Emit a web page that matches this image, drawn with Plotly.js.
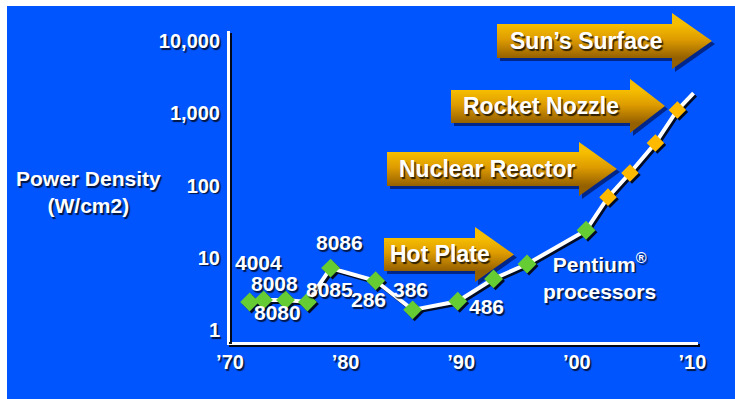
<!DOCTYPE html>
<html>
<head>
<meta charset="utf-8">
<script src="https://cdn.plot.ly/plotly-3.0.1.min.js"></script>
<style>
  html, body { margin: 0; padding: 0; background: #ffffff; width: 735px; height: 399px; overflow: hidden; }
  #chart { position: absolute; left: 7px; top: 6px; width: 728px; height: 393px; }
  #chart .scatterlayer { filter: drop-shadow(2px 2px 0px rgba(0,0,0,0.85)); }
  #chart path.xlines-above, #chart path.ylines-above { filter: drop-shadow(2px 2px 0px rgba(0,0,0,0.9)); }
</style>
</head>
<body>
<div id="chart"></div>
<script>
// ---- data ----
const chipNames  = ['4004', '8008', '8080', '8085', '8086', '286', '386', '486'];
const chipYears  = [1971.7, 1972.9, 1974.8, 1976.7, 1978.7, 1982.6, 1985.8, 1989.7];
const chipPower  = [2.44, 2.6, 2.6, 2.44, 7.2, 4.8, 1.9, 2.5];

const pentiumYears = [1992.8, 1995.7, 2000.8];
const pentiumPower = [5.1, 8.2, 24];

const projYears = [2002.7, 2004.6, 2006.8, 2008.7];
const projPower = [69, 149, 387, 1109];

const trendEndYear  = [2010.1];
const trendEndPower = [1905];

const xTickVals  = [1970, 1980, 1990, 2000, 2010];
const xTickText  = ['\u201970', '\u201980', '\u201990', '\u201900', '\u201910'];
const yTickVals  = [1, 10, 100, 1000, 10000];
const yTickText  = ['1', '10', '100', '1,000', '10,000'];

const levelNames = ['Sun\u2019s Surface', 'Rocket Nozzle', 'Nuclear Reactor', 'Hot Plate'];

// ---- styling / layout ----
const FONT = 'Liberation Sans, Arial, Helvetica, sans-serif';
const BLUE = '#0055FF';
const SHADOW = '1.5px 1.5px 1px rgba(0,0,0,0.75)';

// plot area in page pixels (div is offset by 7,6)
const PL = 230, PR = 698, PT = 31, PB = 342;
const px = v => (v - PL) / (PR - PL);
const py = v => (PB - v) / (PB - PT);

// arrow geometry in page pixels: left, bodyTop, bodyBot, headX, headTop, headBot, tip
const arrowGeom = [
  [497, 24, 58, 672, 13, 69, 712],
  [451, 90, 123, 630, 79, 133, 665],
  [387, 152, 186, 579, 142, 196, 617],
  [384, 238, 271, 475, 227, 282, 514]
];
// label centre x (page pixels) for each arrow text
const arrowTextX = [586, 541, 487, 440];

function arrowSVG(g) {
  const [l, bt, bb, hx, ht, hb, tip] = g;
  const W = tip - l, H = hb - ht, S = 3;
  const y1 = bt - ht, y2 = bb - ht, hxl = hx - l, ty = H / 2;
  const pts = [[0, y1], [hxl, y1], [hxl, 0], [W, ty], [hxl, H], [hxl, y2], [0, y2]];
  const p = pts.map(q => q.join(',')).join(' ');
  const ps = pts.map(q => (q[0] + S) + ',' + (q[1] + S)).join(' ');
  const svg = '<svg xmlns="http://www.w3.org/2000/svg" width="' + (W + S) + '" height="' + (H + S) +
    '" viewBox="0 0 ' + (W + S) + ' ' + (H + S) + '">' +
    '<defs><linearGradient id="g" gradientUnits="userSpaceOnUse" x1="0" y1="' + y1 + '" x2="0" y2="' + y2 + '">' +
    '<stop offset="0" stop-color="#F6BE00"/><stop offset="0.45" stop-color="#DE9C00"/>' +
    '<stop offset="1" stop-color="#956000"/></linearGradient></defs>' +
    '<polygon points="' + ps + '" fill="rgba(0,0,40,0.55)"/>' +
    '<polygon points="' + p + '" fill="url(#g)"/></svg>';
  return {
    source: 'data:image/svg+xml;charset=utf-8,' + encodeURIComponent(svg),
    xref: 'paper', yref: 'paper',
    x: px(l), y: py(ht),
    sizex: (W + S) / (PR - PL), sizey: (H + S) / (PB - PT),
    xanchor: 'left', yanchor: 'top', sizing: 'stretch', layer: 'below'
  };
}

const images = arrowGeom.map(arrowSVG);

const arrowLabels = levelNames.map((name, i) => {
  const g = arrowGeom[i];
  return {
    xref: 'paper', yref: 'paper', showarrow: false,
    x: px(arrowTextX[i]), y: py((g[1] + g[2]) / 2 - 0.5),
    xanchor: 'center', yanchor: 'middle',
    text: name,
    font: { family: FONT, size: 23, color: '#ffffff', weight: 'bold', shadow: SHADOW }
  };
});

// label offsets (pixels) relative to each chip's point
const labelDX = [9, 11, -8, 22, 9, -7, -2, 29];
const labelDY = [40, 17, -12, 13, 26, -19, 20, -5];

const chipLabels = chipNames.map((n, i) => ({
  x: chipYears[i], y: Math.log10(chipPower[i]), xref: 'x', yref: 'y',
  showarrow: false, text: n, xshift: labelDX[i], yshift: labelDY[i],
  xanchor: 'center', yanchor: 'middle',
  font: { family: FONT, size: 21, color: '#ffffff', weight: 'bold', shadow: SHADOW }
}));

const otherLabels = [
  {
    xref: 'paper', yref: 'paper', showarrow: false,
    x: px(599), y: py(276), xanchor: 'center', yanchor: 'middle',
    text: 'Pentium<sup>\u00AE</sup><br>processors', align: 'center',
    font: { family: FONT, size: 21, color: '#ffffff', weight: 'bold', shadow: SHADOW }
  },
  {
    xref: 'paper', yref: 'paper', showarrow: false,
    x: px(88), y: py(192), xanchor: 'center', yanchor: 'middle',
    text: 'Power Density<br>(W/cm2)', align: 'center',
    font: { family: FONT, size: 21, color: '#ffffff', weight: 'bold', shadow: SHADOW }
  }
];

const allYears = chipYears.concat(pentiumYears, projYears, trendEndYear);
const allPower = chipPower.concat(pentiumPower, projPower, trendEndPower);

const traces = [
  { x: allYears, y: allPower, mode: 'lines', type: 'scatter',
    line: { color: '#ffffff', width: 4 }, hoverinfo: 'skip' },
  { x: chipYears.concat(pentiumYears), y: chipPower.concat(pentiumPower), mode: 'markers', type: 'scatter',
    marker: { symbol: 'diamond', size: 14.5, color: '#66CC33', line: { width: 0 } } },
  { x: projYears, y: projPower, mode: 'markers', type: 'scatter',
    marker: { symbol: 'diamond', size: 13.5, color: '#FFBA00', line: { width: 0 } } }
];

const layout = {
  width: 728, height: 393,
  margin: { l: PL - 7, r: 735 - PR, t: PT - 6, b: 399 - PB, pad: 0 },
  paper_bgcolor: BLUE, plot_bgcolor: 'rgba(0,0,0,0)',
  showlegend: false,
  xaxis: {
    range: [1970, 1970 + (PR - PL) / 11.56],
    tickvals: xTickVals, ticktext: xTickText,
    showgrid: false, zeroline: false,
    showline: true, linecolor: '#ffffff', linewidth: 3,
    ticks: 'outside', ticklen: 0, tickcolor: 'rgba(0,0,0,0)',
    tickfont: { family: FONT, size: 20, color: '#ffffff', weight: 'bold', shadow: SHADOW }
  },
  yaxis: {
    type: 'log',
    range: [-(PB - 330) / 72.25, (330 - PT) / 72.25],
    tickvals: yTickVals, ticktext: yTickText,
    showgrid: false, zeroline: false,
    showline: true, linecolor: '#ffffff', linewidth: 3,
    ticks: 'outside', ticklen: 3, tickcolor: 'rgba(0,0,0,0)',
    tickfont: { family: FONT, size: 20, color: '#ffffff', weight: 'bold', shadow: SHADOW }
  },
  images: images,
  annotations: arrowLabels.concat(chipLabels, otherLabels)
};

Plotly.newPlot('chart', traces, layout, { displayModeBar: false, staticPlot: true });
</script>
</body>
</html>
